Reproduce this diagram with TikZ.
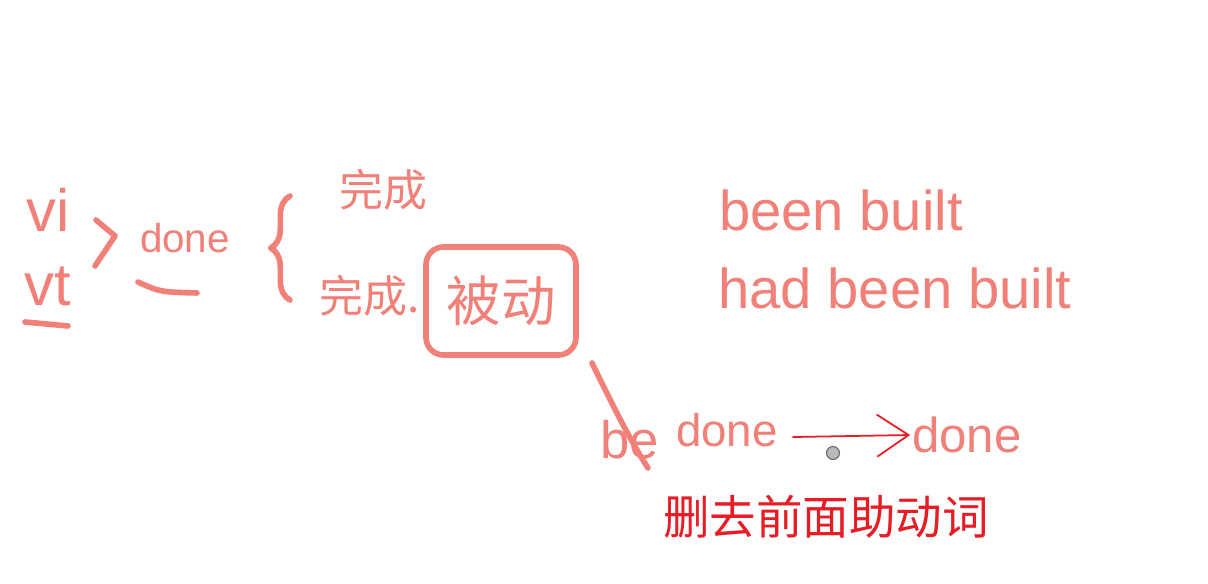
\documentclass[tikz,border=0pt]{standalone}
\usepackage{fontspec}
\setsansfont{Liberation Sans}
\newfontfamily\cjk{Noto Sans CJK SC}
\usepackage{tikz}
\usetikzlibrary{positioning, arrows.meta, decorations.pathreplacing}

\definecolor{pinkink}{RGB}{241,128,120}
\definecolor{redpen}{RGB}{232,28,36}

\begin{document}
\begin{tikzpicture}[
  x=0.02cm, y=-0.02cm,
  hand/.style={text=pinkink, font=\sffamily\fontsize{#1}{#1}\selectfont, inner sep=0pt},
  hand/.default=32,
  handcn/.style={text=pinkink, font=\cjk\fontsize{#1}{#1}\selectfont, inner sep=0pt},
  ink/.style={draw=pinkink, line width=3.2pt, line cap=round, line join=round},
  pen/.style={draw=redpen, line width=1pt, line cap=round}
]
  \useasboundingbox (0,0) rectangle (1208,584);

  % Left: vi / vt -> done
  \node[hand=34] (vi) at (48,210) {vi};
  \node[hand=34] (vt) at (48,286) {vt};
  \draw[ink] (25,322) -- (68,326);
  \draw[ink] (96,220) -- (115,236) -- (95,266);
  \node[hand=23] (done1) at (185,238) {done};
  \draw[ink] (138,282) .. controls (160,292) .. (197,293);

  % Brace and meanings
  \draw[ink, decorate, decoration={brace, amplitude=11pt}] (290,300) -- (290,196);
  \node[handcn=25] (ok1) at (383,190) {完成};
  \node[handcn=25] (ok2) at (370,296) {完成.};
  \node[handcn=31, draw=pinkink, line width=3.2pt, rounded corners=10pt,
        minimum width=150*0.02cm, minimum height=108*0.02cm] (passive) at (501,301) {被动};

  % Examples
  \node[hand=32] (beenbuilt) at (841,210) {been built};
  \node[hand=32] (hadbeenbuilt) at (895,288) {had been built};

  % be done -> done
  \node[hand=30] (be) at (630,440) {be};
  \draw[ink] (592,363) .. controls (615,410) and (630,440) .. (648,468);
  \node[hand=26] (done2) at (727,430) {done};
  \node[hand=28] (done3) at (967,435) {done};
  \draw[pen, -{Straight Barb[length=18pt, width=24pt, line width=1pt]}]
    ([xshift=8.5pt,yshift=-4pt]done2.east) -- ([xshift=-1pt]done3.west);
  \fill[gray!55, draw=gray!80!black, line width=0.6pt] (833,453) circle (0.13cm);

  \node[font=\cjk\fontsize{26.5}{26.5}\selectfont, text=redpen, inner sep=0pt] (note) at (826,517) {删去前面助动词};
\end{tikzpicture}
\end{document}
